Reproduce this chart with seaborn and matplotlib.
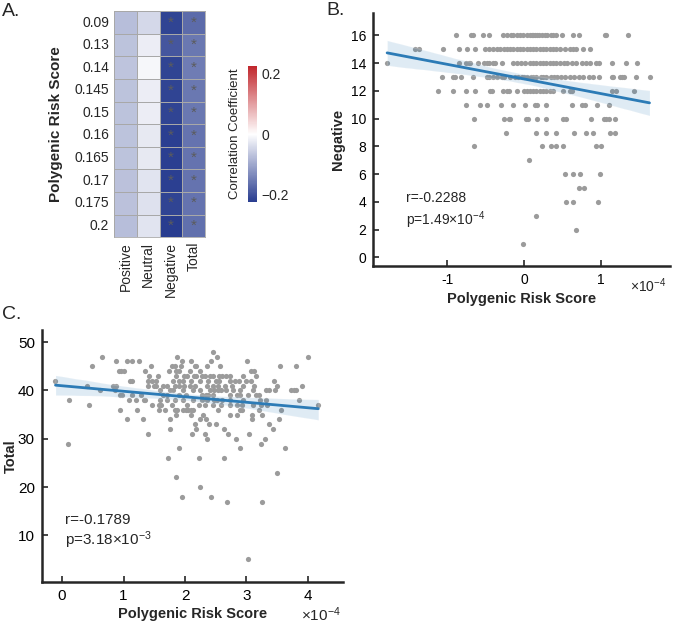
import numpy as np
import pandas as pd
import matplotlib
matplotlib.use("Agg")
import matplotlib.pyplot as plt
import seaborn as sns
from matplotlib.colors import LinearSegmentedColormap

sns.set_style("white")
plt.rcParams["font.family"] = ["Liberation Sans", "DejaVu Sans"]
plt.rcParams["mathtext.fontset"] = "custom"
plt.rcParams["mathtext.rm"] = "Liberation Sans"
plt.rcParams["mathtext.it"] = "Liberation Sans:italic"
plt.rcParams["axes.unicode_minus"] = False

# --- panel A: correlation heatmap ---
thresholds = ["0.09", "0.13", "0.14", "0.145", "0.15", "0.16", "0.165", "0.17", "0.175", "0.2"]
measures = ["Positive", "Neutral", "Negative", "Total"]
r_positive = [-0.075, -0.07, -0.068, -0.07, -0.07, -0.07, -0.07, -0.072, -0.072, -0.075]
r_neutral = [-0.045, -0.02, -0.01, -0.02, -0.02, -0.025, -0.025, -0.03, -0.035, -0.03]
r_negative = [-0.215, -0.195, -0.215, -0.215, -0.215, -0.22, -0.22, -0.22, -0.215, -0.225]
r_total = [-0.17, -0.155, -0.15, -0.155, -0.155, -0.16, -0.16, -0.16, -0.16, -0.165]
sig_negative = [True] * 10
sig_total = [True] * 10

# --- panel B: Negative vs PRS (x in units of 1e-4) ---
neg_by_score = {
    16: [-0.887, -0.69, -0.67, -0.53, -0.46, -0.27, -0.225, -0.17, -0.14, -0.095, -0.05, -0.02, 0.035, 0.08,
         0.10, 0.12, 0.14, 0.17, 0.20, 0.23, 0.27, 0.30, 0.35, 0.38, 0.42, 0.49, 0.64, 0.71, 1.05, 1.07, 1.35],
    15: [-1.42, -1.36, -1.06, -0.84, -0.74, -0.64, -0.51, -0.46, -0.41, -0.355, -0.31, -0.26, -0.22, -0.18,
         -0.14, -0.095, -0.05, -0.01, 0.035, 0.08, 0.12, 0.16, 0.21, 0.25, 0.29, 0.34, 0.38, 0.42, 0.47, 0.53,
         0.60, 0.64, 0.68, 0.77, 0.86],
    14: [-1.78, -0.85, -0.75, -0.72, -0.70, -0.60, -0.515, -0.485, -0.45, -0.41, -0.38, -0.29, -0.14, -0.087,
         -0.043, 0.013, 0.08, 0.12, 0.16, 0.21, 0.25, 0.29, 0.34, 0.38, 0.42, 0.47, 0.52, 0.56, 0.62, 0.68,
         0.75, 0.81, 0.86, 0.94, 0.97, 1.14, 1.32, 1.47],
    13: [-1.07, -0.93, -0.90, -0.82, -0.67, -0.48, -0.45, -0.41, -0.355, -0.29, -0.26, -0.18, -0.12, -0.074,
         -0.03, 0.0, 0.043, 0.087, 0.12, 0.16, 0.22, 0.25, 0.29, 0.35, 0.39, 0.43, 0.48, 0.53, 0.60, 0.65,
         0.71, 0.76, 0.84, 0.90, 0.97, 1.14, 1.16, 1.25, 1.27, 1.30, 1.46, 1.63],
    12: [-1.12, -0.93, -0.76, -0.64, -0.44, -0.42, -0.27, -0.225, -0.19, -0.095, 0.0, 0.035, 0.08, 0.12,
         0.16, 0.21, 0.25, 0.29, 0.34, 0.38, 0.51, 0.60, 0.62, 1.14, 1.19, 1.43],
    11: [-0.75, -0.57, -0.485, -0.30, -0.15, 0.013, 0.14, 0.17, 0.28, 0.62, 0.75, 0.79, 0.95, 1.11],
    10: [-0.65, -0.26, -0.20, -0.18, 0.026, 0.056, 0.17, 0.29, 0.50, 0.54, 0.87, 1.04, 1.07, 1.11, 1.18],
    9: [-0.23, 0.15, 0.29, 0.42, 0.65, 0.81, 0.90, 1.12, 1.18],
    8: [-0.65, 0.23, 0.35, 0.42, 0.51, 0.94, 1.0],
    7: [0.06],
    6: [0.53, 0.63, 0.73, 0.99],
    5: [0.71, 0.78],
    4: [0.55, 0.63, 0.965],
    3: [0.16],
    2: [0.68],
    1: [-0.02],
}

# --- panel C: Total vs PRS (x in units of 1e-4) ---
total_by_score = {
    48: [2.455],
    47: [0.656, 1.875, 2.52, 4.01],
    46: [0.873, 1.057, 1.138, 1.252, 1.957, 2.10, 2.43, 3.01],
    45: [0.488, 1.45, 1.79, 1.83, 1.93, 2.16, 2.18, 2.35, 2.57, 3.54, 3.80],
    44: [0.92, 0.96, 1.00, 1.355, 1.74, 1.86, 1.91, 2.08, 2.24, 3.08, 3.13],
    43: [1.41, 1.56, 1.86, 1.98, 2.04, 2.15, 2.18, 2.28, 2.32, 2.40, 2.455, 2.56, 2.61, 2.66, 2.74, 2.94, 3.16],
    42: [-0.108, 1.10, 1.13, 1.40, 1.47, 1.53, 1.80, 1.91, 1.96, 2.10, 2.24, 2.37, 2.51, 2.56, 2.73, 2.81,
         2.88, 3.00, 3.08, 3.45],
    41: [0.41, 0.83, 0.88, 1.39, 1.49, 1.53, 1.64, 1.70, 1.83, 1.91, 1.99, 2.08, 2.17, 2.35, 2.455, 2.54,
         2.645, 2.76, 2.94, 3.13, 3.49, 3.90],
    40: [0.62, 0.856, 1.59, 1.75, 1.80, 1.97, 2.13, 2.24, 2.40, 2.48, 2.54, 2.59, 2.67, 2.78, 2.89, 3.11,
         3.32, 3.37, 3.47, 3.73, 3.77, 3.80],
    39: [0.94, 0.98, 1.14, 1.28, 1.64, 1.70, 1.90, 2.02, 2.27, 2.34, 2.37, 2.455, 2.73, 2.85, 2.89, 3.02,
         3.15, 3.20],
    38: [0.11, 1.09, 1.20, 1.33, 1.355, 1.59, 1.71, 1.83, 1.96, 2.13, 2.28, 2.35, 2.48, 2.52, 2.61, 2.73,
         2.94, 3.22, 3.32, 3.85],
    37: [0.43, 1.47, 1.58, 1.615, 1.79, 2.04, 2.23, 2.32, 2.455, 2.59, 2.73, 2.85, 2.93, 3.11, 3.24, 3.34, 4.17],
    36: [0.95, 1.22, 1.58, 1.68, 1.83, 1.87, 1.97, 2.01, 2.05, 2.09, 2.13, 2.54, 2.89, 2.93, 3.20, 3.56],
    35: [1.86, 2.09, 2.30, 2.74, 2.85, 3.09, 3.26],
    34: [1.05, 1.32, 1.76, 2.25, 2.34, 3.09, 3.53],
    33: [2.17, 2.39, 2.51, 3.37],
    32: [1.76, 2.18, 2.63, 3.43],
    31: [1.39, 2.11, 2.32, 2.70, 3.04],
    30: [2.36, 2.83, 3.31],
    29: [0.10, 3.24],
    28: [1.90, 2.90, 3.63],
    26: [1.73, 2.22, 2.63],
    23: [3.50],
    22: [1.86],
    20: [2.25],
    18: [1.95, 2.43],
    17: [2.68, 3.26],
    5: [3.02],
}

neg_df = pd.DataFrame([(x, s) for s, xs in neg_by_score.items() for x in xs], columns=["prs", "score"])
total_df = pd.DataFrame([(x, s) for s, xs in total_by_score.items() for x in xs], columns=["prs", "score"])

corr = pd.DataFrame({"Positive": r_positive, "Neutral": r_neutral,
                     "Negative": r_negative, "Total": r_total}, index=thresholds)[measures]
stars = np.full(corr.shape, "", dtype=object)
stars[:, 2] = np.where(sig_negative, "*", "")
stars[:, 3] = np.where(sig_total, "*", "")

cmap = LinearSegmentedColormap.from_list("bwr_matlab", ["#283c8f", "#ffffff", "#c1272d"])

fig = plt.figure(figsize=(6.75, 6.24), dpi=100)

ax_a = fig.add_axes([0.169, 0.620, 0.135, 0.362])
cax = fig.add_axes([0.367, 0.676, 0.0133, 0.218])
sns.heatmap(corr, ax=ax_a, cbar_ax=cax, cmap=cmap, vmin=-0.225, vmax=0.225,
            annot=stars, fmt="", annot_kws={"color": "#5c5c5c", "fontsize": 11},
            linewidths=0.6, linecolor="#a8a8a8")
for sp in ax_a.spines.values():
    sp.set_visible(True)
    sp.set_color("#a8a8a8")
    sp.set_linewidth(0.6)
ax_a.tick_params(length=0, labelsize=10)
ax_a.set_yticklabels(thresholds, rotation=0)
ax_a.set_xticklabels(measures, rotation=90)
ax_a.set_ylabel("Polygenic Risk Score", fontsize=11, fontweight="bold", labelpad=8)

cbar = ax_a.collections[0].colorbar
cbar.outline.set_visible(False)
cbar.set_ticks([-0.2, 0, 0.2])
cbar.set_ticklabels(["\u22120.2", "0", "0.2"])
cax.tick_params(length=0, labelsize=10)
cax.yaxis.set_label_position("left")
cbar.set_label("Correlation Coefficient", fontsize=9.5, labelpad=5)


def style_scatter(ax, xlabel, ylabel, tick_size):
    sns.despine(ax=ax)
    for side in ["left", "bottom"]:
        ax.spines[side].set_linewidth(1.8)
        ax.spines[side].set_color("#262626")
    ax.tick_params(bottom=True, left=True, direction="in", length=4, width=1.2,
                   labelsize=tick_size, color="#262626", labelcolor="black", pad=5)
    ax.set_xlabel(xlabel, fontsize=10.5, fontweight="bold")
    ax.set_ylabel(ylabel, fontsize=10.5, fontweight="bold")


line_color = "#2c7bb6"
dot_color = "#9b9b9b"

ax_b = fig.add_axes([0.553, 0.574, 0.44, 0.405])
sns.regplot(data=neg_df, x="prs", y="score", ax=ax_b, color=line_color, seed=0,
            scatter_kws={"s": 14, "color": dot_color, "linewidths": 0, "alpha": 1},
            line_kws={"lw": 2})
ax_b.set_xlim(-1.96, 1.90)
ax_b.set_ylim(-0.6, 17.6)
ax_b.set_xticks([-1, 0, 1])
ax_b.set_yticks(range(0, 17, 2))
style_scatter(ax_b, "Polygenic Risk Score", "Negative", 10)
ax_b.text(0.865, -0.08, "\u00d710$^{-4}$", transform=ax_b.transAxes, fontsize=10, va="center")
ax_b.text(0.11, 0.27, "r=-0.2288", transform=ax_b.transAxes, fontsize=10, va="center")
ax_b.text(0.11, 0.18, "p=1.49\u00d710$^{-4}$", transform=ax_b.transAxes, fontsize=10, va="center")

ax_c = fig.add_axes([0.062, 0.067, 0.446, 0.404])
sns.regplot(data=total_df, x="prs", y="score", ax=ax_c, color=line_color, seed=0,
            scatter_kws={"s": 14, "color": dot_color, "linewidths": 0, "alpha": 1},
            line_kws={"lw": 2})
ax_c.set_xlim(-0.33, 4.57)
ax_c.set_ylim(0.3, 52.5)
ax_c.set_xticks(range(0, 5))
ax_c.set_yticks(range(10, 51, 10))
style_scatter(ax_c, "Polygenic Risk Score", "Total", 11)
ax_c.xaxis.labelpad = 3
ax_c.yaxis.set_label_coords(-0.078, 0.5)
ax_c.text(0.86, -0.13, "\u00d710$^{-4}$", transform=ax_c.transAxes, fontsize=11, va="center")
ax_c.text(0.076, 0.246, "r=-0.1789", transform=ax_c.transAxes, fontsize=11, va="center")
ax_c.text(0.076, 0.167, "p=3.18\u00d710$^{-3}$", transform=ax_c.transAxes, fontsize=11, va="center")

fig.text(0.003, 0.995, "A.", fontsize=14, va="top")
fig.text(0.484, 0.997, "B.", fontsize=14, va="top")
fig.text(0.003, 0.510, "C.", fontsize=14, va="top")

fig.savefig("out.png", dpi=100)
